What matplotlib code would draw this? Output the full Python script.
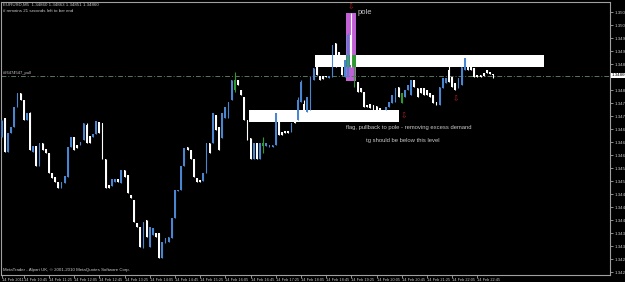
import matplotlib
matplotlib.use("Agg")
import matplotlib.pyplot as plt
import matplotlib.transforms as mtransforms
from matplotlib.patches import Rectangle
import numpy as np
import pandas as pd

plt.rcParams["font.family"] = ["Liberation Sans", "DejaVu Sans"]

BG = "black"
FG = "#c8c8c8"
BULL = "#4a86d0"
BEAR = "#ffffff"
MARKED = "#2f9a2f"
POLE = "#c261d6"
ARROW = "#b02020"

# EURUSD M5, 14 Feb 2011, first bar 10:10
opens = [
    1.34670, 1.34729, 1.34624, 1.34683, 1.34701, 1.34763, 1.34806, 1.34784, 1.34723, 1.34744,
    1.34624, 1.34643, 1.34581, 1.34652, 1.34633, 1.34621, 1.34560, 1.34547, 1.34532, 1.34513,
    1.34529, 1.34547, 1.34640, 1.34670, 1.34646, 1.34646, 1.34661, 1.34707, 1.34673, 1.34670,
    1.34680, 1.34717, 1.34713, 1.34603, 1.34523, 1.34520, 1.34532, 1.34541, 1.34529, 1.34569,
    1.34553, 1.34492, 1.34477, 1.34406, 1.34393, 1.34329, 1.34415, 1.34332, 1.34369, 1.34375,
    1.34375, 1.34298, 1.34344, 1.34347, 1.34360, 1.34421, 1.34504, 1.34507, 1.34581, 1.34640,
    1.34630, 1.34603, 1.34544, 1.34538, 1.34535, 1.34560, 1.34652, 1.34652, 1.34738, 1.34701,
    1.34667, 1.34729, 1.34729, 1.34784, 1.34846, 1.34846, 1.34815, 1.34793, 1.34723, 1.34667,
    1.34603, 1.34652, 1.34603, 1.34652, 1.34643, 1.34640, 1.34640, 1.34646, 1.34747, 1.34686,
    1.34689, 1.34689, 1.34686, 1.34744, 1.34723, 1.34778, 1.34772, 1.34747, 1.34753, 1.34846,
    1.34892, 1.34858, 1.34858, 1.34858, 1.34852, 1.34855, 1.34960, 1.34932, 1.34886, 1.34855,
    1.34855, 1.34984, 1.34886, 1.34840, 1.34821, 1.34809, 1.34769, 1.34772, 1.34769, 1.34766,
    1.34760, 1.34747, 1.34753, 1.34763, 1.34775, 1.34778, 1.34824, 1.34806, 1.34793, 1.34815,
    1.34800, 1.34846, 1.34821, 1.34821, 1.34821, 1.34815, 1.34806, 1.34800, 1.34778, 1.34769,
    1.34821, 1.34837, 1.34877, 1.34855, 1.34837, 1.34821, 1.34830, 1.34877, 1.34892, 1.34913,
    1.34883, 1.34861, 1.34861, 1.34867, 1.34877, 1.34870, 1.34860,
]
highs = [
    1.34723, 1.34729, 1.34683, 1.34701, 1.34763, 1.34806, 1.34806, 1.34784, 1.34744, 1.34747,
    1.34643, 1.34643, 1.34652, 1.34652, 1.34633, 1.34621, 1.34560, 1.34547, 1.34532, 1.34532,
    1.34550, 1.34640, 1.34670, 1.34670, 1.34646, 1.34655, 1.34713, 1.34713, 1.34673, 1.34680,
    1.34720, 1.34717, 1.34713, 1.34603, 1.34523, 1.34541, 1.34541, 1.34541, 1.34569, 1.34569,
    1.34553, 1.34492, 1.34477, 1.34406, 1.34393, 1.34409, 1.34415, 1.34393, 1.34390, 1.34375,
    1.34375, 1.34347, 1.34360, 1.34363, 1.34421, 1.34507, 1.34507, 1.34581, 1.34637, 1.34640,
    1.34630, 1.34603, 1.34544, 1.34538, 1.34560, 1.34652, 1.34652, 1.34744, 1.34738, 1.34701,
    1.34744, 1.34763, 1.34778, 1.34846, 1.34870, 1.34846, 1.34815, 1.34793, 1.34723, 1.34667,
    1.34652, 1.34652, 1.34652, 1.34670, 1.34652, 1.34646, 1.34646, 1.34744, 1.34747, 1.34686,
    1.34689, 1.34689, 1.34713, 1.34744, 1.34793, 1.34846, 1.34784, 1.34793, 1.34855, 1.34883,
    1.34913, 1.34858, 1.34858, 1.34858, 1.34858, 1.34953, 1.34960, 1.34932, 1.34886, 1.34907,
    1.34990, 1.35052, 1.34886, 1.34840, 1.34821, 1.34809, 1.34769, 1.34772, 1.34769, 1.34766,
    1.34760, 1.34747, 1.34763, 1.34778, 1.34800, 1.34821, 1.34824, 1.34806, 1.34815, 1.34830,
    1.34846, 1.34846, 1.34821, 1.34821, 1.34821, 1.34815, 1.34806, 1.34800, 1.34778, 1.34824,
    1.34852, 1.34852, 1.34898, 1.34855, 1.34837, 1.34852, 1.34886, 1.34913, 1.34892, 1.34923,
    1.34883, 1.34861, 1.34861, 1.34867, 1.34877, 1.34870, 1.34863,
]
lows = [
    1.34670, 1.34624, 1.34624, 1.34683, 1.34701, 1.34763, 1.34784, 1.34723, 1.34723, 1.34630,
    1.34624, 1.34581, 1.34581, 1.34630, 1.34621, 1.34560, 1.34544, 1.34532, 1.34513, 1.34513,
    1.34529, 1.34547, 1.34640, 1.34630, 1.34637, 1.34646, 1.34661, 1.34652, 1.34652, 1.34670,
    1.34680, 1.34683, 1.34603, 1.34513, 1.34513, 1.34520, 1.34532, 1.34532, 1.34529, 1.34547,
    1.34498, 1.34483, 1.34409, 1.34393, 1.34332, 1.34329, 1.34363, 1.34332, 1.34369, 1.34363,
    1.34298, 1.34298, 1.34344, 1.34347, 1.34360, 1.34421, 1.34504, 1.34507, 1.34581, 1.34630,
    1.34603, 1.34547, 1.34532, 1.34532, 1.34535, 1.34560, 1.34621, 1.34652, 1.34692, 1.34630,
    1.34667, 1.34729, 1.34729, 1.34784, 1.34809, 1.34830, 1.34800, 1.34723, 1.34661, 1.34603,
    1.34603, 1.34603, 1.34603, 1.34621, 1.34643, 1.34640, 1.34640, 1.34646, 1.34677, 1.34677,
    1.34683, 1.34683, 1.34686, 1.34713, 1.34723, 1.34778, 1.34738, 1.34747, 1.34753, 1.34846,
    1.34861, 1.34846, 1.34849, 1.34855, 1.34852, 1.34855, 1.34886, 1.34892, 1.34861, 1.34855,
    1.34855, 1.34886, 1.34824, 1.34809, 1.34809, 1.34763, 1.34763, 1.34760, 1.34753, 1.34753,
    1.34732, 1.34729, 1.34753, 1.34763, 1.34775, 1.34778, 1.34793, 1.34775, 1.34793, 1.34815,
    1.34800, 1.34824, 1.34793, 1.34806, 1.34800, 1.34800, 1.34793, 1.34775, 1.34769, 1.34769,
    1.34821, 1.34837, 1.34840, 1.34824, 1.34815, 1.34821, 1.34830, 1.34877, 1.34877, 1.34877,
    1.34855, 1.34855, 1.34855, 1.34858, 1.34867, 1.34864, 1.34851,
]
closes = [
    1.34723, 1.34624, 1.34683, 1.34701, 1.34763, 1.34806, 1.34784, 1.34723, 1.34744, 1.34630,
    1.34643, 1.34581, 1.34652, 1.34630, 1.34621, 1.34560, 1.34544, 1.34532, 1.34513, 1.34532,
    1.34550, 1.34640, 1.34670, 1.34630, 1.34637, 1.34655, 1.34713, 1.34652, 1.34652, 1.34680,
    1.34720, 1.34683, 1.34603, 1.34513, 1.34513, 1.34541, 1.34541, 1.34532, 1.34569, 1.34547,
    1.34498, 1.34483, 1.34409, 1.34393, 1.34332, 1.34409, 1.34363, 1.34393, 1.34390, 1.34363,
    1.34298, 1.34347, 1.34360, 1.34363, 1.34421, 1.34507, 1.34507, 1.34581, 1.34637, 1.34630,
    1.34603, 1.34547, 1.34532, 1.34532, 1.34560, 1.34652, 1.34621, 1.34744, 1.34692, 1.34630,
    1.34744, 1.34763, 1.34778, 1.34846, 1.34815, 1.34830, 1.34800, 1.34723, 1.34661, 1.34603,
    1.34652, 1.34603, 1.34652, 1.34643, 1.34652, 1.34646, 1.34646, 1.34744, 1.34677, 1.34677,
    1.34683, 1.34683, 1.34713, 1.34713, 1.34784, 1.34840, 1.34747, 1.34793, 1.34855, 1.34883,
    1.34861, 1.34846, 1.34849, 1.34855, 1.34858, 1.34953, 1.34886, 1.34892, 1.34861, 1.34907,
    1.34984, 1.34892, 1.34824, 1.34809, 1.34809, 1.34763, 1.34763, 1.34760, 1.34753, 1.34753,
    1.34732, 1.34729, 1.34763, 1.34778, 1.34800, 1.34821, 1.34793, 1.34775, 1.34815, 1.34830,
    1.34846, 1.34824, 1.34793, 1.34806, 1.34800, 1.34800, 1.34793, 1.34775, 1.34769, 1.34824,
    1.34852, 1.34852, 1.34840, 1.34824, 1.34815, 1.34852, 1.34886, 1.34913, 1.34877, 1.34877,
    1.34855, 1.34855, 1.34855, 1.34858, 1.34867, 1.34864, 1.34860,
]
# bars that show up green on the screenshot
marked_bars = [74, 83, 112, 127]

price_ticks = [1.35055, 1.35015, 1.34975, 1.34935, 1.34895, 1.34855, 1.34815,
               1.34775, 1.34735, 1.34695, 1.34655, 1.34615, 1.34575, 1.34535,
               1.34495, 1.34455, 1.34415, 1.34375, 1.34335, 1.34295, 1.34255]
last_price = 1.34860
pull_level = 1.34858

# chart objects: (bar from, bar to, price low, price high)
white_boxes = [(99.5, 172.2, 1.34886, 1.34923),
               (78.5, 126.2, 1.34717, 1.34753)]
pole_box = (109.3, 112.5, 1.34843, 1.35052)
arrow_bars = [110.9, 127.7, 144.2]
arrow_prices = [1.35070, 1.34735, 1.34787]

n = len(closes)
times = pd.date_range("2011-02-14 10:10", periods=n, freq="5min")

fig = plt.figure(figsize=(6.25, 2.82), dpi=100, facecolor=BG)
ax = fig.add_axes([1 / 625, 7 / 282, 609 / 625, 273 / 282])
ax.set_facecolor(BG)

# objects behind the bars
for x0, x1, p0, p1 in white_boxes:
    ax.add_patch(Rectangle((x0, p0), x1 - x0, p1 - p0, facecolor="white",
                           edgecolor="none", zorder=1))
px0, px1, pp0, pp1 = pole_box
ax.add_patch(Rectangle((px0, pp0), px1 - px0, pp1 - pp0, facecolor=POLE,
                       edgecolor="none", zorder=1))
for x0, x1, p0, p1 in white_boxes:
    lo_x, hi_x = max(x0, px0), min(x1, px1)
    lo_p, hi_p = max(p0, pp0), min(p1, pp1)
    if lo_x < hi_x and lo_p < hi_p:
        ax.add_patch(Rectangle((lo_x, lo_p), hi_x - lo_x, hi_p - lo_p,
                               facecolor=MARKED, edgecolor="none", zorder=1.5))

ax.axhline(pull_level, color="#56785c", lw=0.7, ls=(0, (5, 2, 1, 2)), zorder=1)
ax.text(0.5, pull_level + 0.00003, "#26474547_pull", fontsize=3, color=FG,
        va="bottom", ha="left")

# candles
o = np.array(opens)
c = np.array(closes)
x = np.arange(n)
colors = [BULL if c[i] > o[i] else BEAR for i in range(n)]
for i in marked_bars:
    colors[i] = MARKED
ax.vlines(x, lows, highs, colors=colors, lw=0.8, zorder=3)
bottoms = np.minimum(o, c)
heights = np.maximum(np.abs(c - o), 0.00003)
ax.bar(x, heights, bottom=bottoms, width=0.55, color=colors, lw=0, zorder=3)

for xb, pb in zip(arrow_bars, arrow_prices):
    ax.text(xb, pb, "\u21e9", color=ARROW, fontsize=5.5, ha="center", va="center",
            family="DejaVu Sans", zorder=4)

ax.text(113.1, 1.35052, "pole", color=FG, fontsize=5.5, ha="left", va="center")
ax.text(129.2, 1.34701, "flag, pullback to pole - removing excess demand",
        color=FG, fontsize=4.2, ha="center", va="center")
ax.text(127.3, 1.34661, "tg should be below this level",
        color=FG, fontsize=4.2, ha="center", va="center")

ax.set_xlim(-0.2, 193.1)
ax.set_ylim(1.342458, 1.350858)

# axes
for sp in ax.spines.values():
    sp.set_color("#a0a0a0")
    sp.set_linewidth(0.8)

ax.yaxis.tick_right()
ax.set_yticks(price_ticks)
# the tick right under the last-price box is hidden by it
ax.set_yticklabels(["" if abs(p - last_price) < 0.0001 else f"{p:.5f}"
                    for p in price_ticks])
ax.tick_params(axis="y", colors=FG, labelsize=3.2, length=2, width=0.5, pad=1)

tick_idx = [0] + [i for i in range(7, n, 8)]
tick_lbl = ["14 Feb 2011"] + [times[i].strftime("%d %b %H:%M") for i in tick_idx[1:]]
ax.set_xticks(tick_idx)
ax.set_xticklabels(tick_lbl)
ax.tick_params(axis="x", colors=FG, labelsize=2.8, length=2, width=0.5, pad=0.2)
plt.setp(ax.get_xticklabels(), ha="left")

trans = mtransforms.blended_transform_factory(ax.transAxes, ax.transData)
ax.text(1.003, last_price, f"{last_price:.5f}", transform=trans, fontsize=3.2,
        color="black", ha="left", va="center", clip_on=False, zorder=6,
        bbox=dict(facecolor="white", edgecolor="none", pad=0.6))

fig.text(3 / 625, 1 - 5 / 282, "EURUSD,M5  1.34860 1.34863 1.34851 1.34860",
         fontsize=3.2, color=FG, va="center")
fig.text(3 / 625, 1 - 11 / 282, "# remains 21 seconds left to bar end",
         fontsize=3.2, color=FG, va="center")
fig.text(3 / 625, 1 - 270 / 282,
         "MetaTrader - Alpari UK, \u00a9 2001-2010 MetaQuotes Software Corp.",
         fontsize=3.2, color=FG, va="center")

fig.savefig("out.png", dpi=100, facecolor=BG)
plt.close(fig)
